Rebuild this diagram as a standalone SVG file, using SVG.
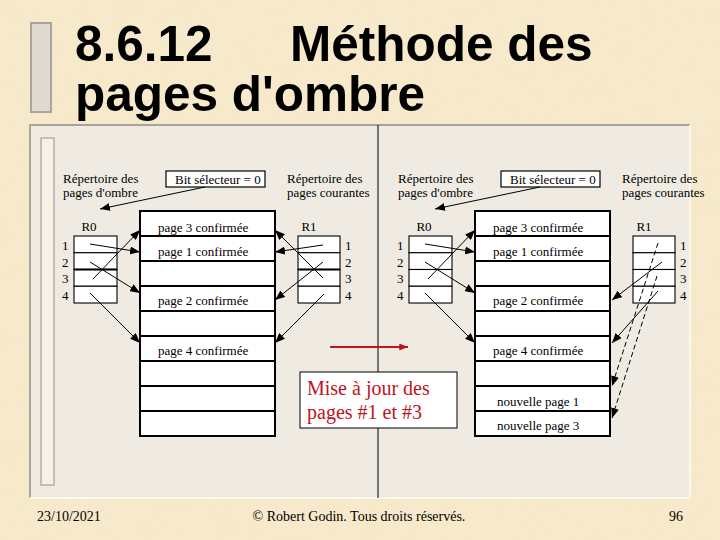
<svg xmlns="http://www.w3.org/2000/svg" width="720" height="540" viewBox="0 0 720 540">
<style>
.t{font-family:"Liberation Serif","Times New Roman",serif;font-size:13px;fill:#000}
.title{font-family:"Liberation Sans",Arial,sans-serif;font-weight:bold;font-size:49.5px;fill:#000}
.foot{font-family:"Liberation Serif","Times New Roman",serif;font-size:14px;fill:#000}
.red{font-family:"Liberation Serif","Times New Roman",serif;font-size:20px;fill:#c0141c}
.row{fill:#fff;stroke:#000;stroke-width:2}
.cell{fill:#fff;stroke:#000;stroke-width:1.1}
.box{fill:#fff;stroke:#000;stroke-width:1.2}
.c{stroke:#000;stroke-width:1;fill:none;marker-end:url(#ah)}
.d{stroke-dasharray:5 3}
</style>
<defs>
<marker id="ah" viewBox="0 0 10 8" refX="10" refY="4" markerWidth="10" markerHeight="8" markerUnits="userSpaceOnUse" orient="auto"><path d="M0,0L10,4L0,8z" fill="#000"/></marker>
<marker id="ahr" viewBox="0 0 10 8" refX="10" refY="4" markerWidth="9" markerHeight="7" markerUnits="userSpaceOnUse" orient="auto"><path d="M0,0L10,4L0,8z" fill="#c0141c"/></marker>
<filter id="paper" x="0" y="0" width="100%" height="100%">
<feTurbulence type="fractalNoise" baseFrequency="0.05" numOctaves="3" seed="4"/>
<feColorMatrix type="matrix" values="0 0 0 0 0.93  0 0 0 0 0.85  0 0 0 0 0.68  0 0 0 0.35 -0.05"/>
</filter>
</defs>
<rect width="720" height="540" fill="#f7e9ca"/>
<rect width="720" height="540" filter="url(#paper)" opacity="0.6"/>
<g id="title">
<rect x="31" y="23" width="20" height="89" fill="#dedad2" stroke="#aaa69e" stroke-width="2"/>
<text class="title"><tspan x="75" y="61">8.6.12</tspan><tspan x="290" y="61">Méthode des</tspan><tspan x="75" y="111">pages d'ombre</tspan></text>
</g>
<g id="panel">
<rect x="30" y="125" width="660" height="373" fill="#efebe2"/>
<path d="M30,498V125H690" fill="none" stroke="#a8a49c" stroke-width="2"/>
<path d="M690,125V498H30" fill="none" stroke="#fbf8f0" stroke-width="2"/>
<rect x="41" y="138" width="13" height="347" fill="#f6f1e4" stroke="#b4b0a8" stroke-width="1.5"/>
<line x1="378" y1="125" x2="378" y2="498" stroke="#000" stroke-width="1"/>
</g>
<g id="left-diagram">
<g id="l-label-shadow"><text class="t" x="63" y="183">Répertoire des</text><text class="t" x="63" y="197">pages d'ombre</text></g>
<g id="l-bit"><rect class="box" x="166" y="171" width="99" height="16"/><text class="t" x="175" y="184">Bit sélecteur = 0</text></g>
<g id="l-label-current"><text class="t" x="287" y="183">Répertoire des</text><text class="t" x="287" y="197">pages courantes</text></g>
<g id="l-R0">
<text class="t" x="89" y="231" text-anchor="middle">R0</text>
<rect class="cell" x="74" y="236" width="43" height="16.75"/><rect class="cell" x="74" y="252.75" width="43" height="16.75"/><rect class="cell" x="74" y="269.5" width="43" height="16.75"/><rect class="cell" x="74" y="286.25" width="43" height="16.75"/>
<line x1="74" y1="269.5" x2="117" y2="269.5" stroke="#000" stroke-width="2"/>
<text class="t" x="62" y="250">1</text><text class="t" x="62" y="267">2</text><text class="t" x="62" y="283">3</text><text class="t" x="62" y="300">4</text>
</g>
<g id="l-R1">
<text class="t" x="309" y="231" text-anchor="middle">R1</text>
<rect class="cell" x="298" y="236" width="42" height="16.75"/><rect class="cell" x="298" y="252.75" width="42" height="16.75"/><rect class="cell" x="298" y="269.5" width="42" height="16.75"/><rect class="cell" x="298" y="286.25" width="42" height="16.75"/>
<line x1="298" y1="269.5" x2="340" y2="269.5" stroke="#000" stroke-width="2"/>
<text class="t" x="345" y="250">1</text><text class="t" x="345" y="267">2</text><text class="t" x="345" y="283">3</text><text class="t" x="345" y="300">4</text>
</g>
<g id="l-pages">
<rect class="row" x="140" y="211" width="135" height="25"/><rect class="row" x="140" y="236" width="135" height="25"/><rect class="row" x="140" y="261" width="135" height="25"/><rect class="row" x="140" y="286" width="135" height="25"/><rect class="row" x="140" y="311" width="135" height="25"/><rect class="row" x="140" y="336" width="135" height="25"/><rect class="row" x="140" y="361" width="135" height="25"/><rect class="row" x="140" y="386" width="135" height="25"/><rect class="row" x="140" y="411" width="135" height="25"/>
<text class="t" x="158" y="232">page 3 confirmée</text>
<text class="t" x="158" y="256">page 1 confirmée</text>
<text class="t" x="158" y="305">page 2 confirmée</text>
<text class="t" x="158" y="355">page 4 confirmée</text>
</g>
</g>
<g id="right-diagram">
<g id="r-label-shadow"><text class="t" x="398" y="183">Répertoire des</text><text class="t" x="398" y="197">pages d'ombre</text></g>
<g id="r-bit"><rect class="box" x="501" y="171" width="99" height="16"/><text class="t" x="510" y="184">Bit sélecteur = 0</text></g>
<g id="r-label-current"><text class="t" x="622" y="183">Répertoire des</text><text class="t" x="622" y="197">pages courantes</text></g>
<g id="r-R0">
<text class="t" x="424" y="231" text-anchor="middle">R0</text>
<rect class="cell" x="409" y="236" width="43" height="16.75"/><rect class="cell" x="409" y="252.75" width="43" height="16.75"/><rect class="cell" x="409" y="269.5" width="43" height="16.75"/><rect class="cell" x="409" y="286.25" width="43" height="16.75"/>
<text class="t" x="397" y="250">1</text><text class="t" x="397" y="267">2</text><text class="t" x="397" y="283">3</text><text class="t" x="397" y="300">4</text>
</g>
<g id="r-R1">
<text class="t" x="644" y="231" text-anchor="middle">R1</text>
<rect class="cell" x="633" y="236" width="42" height="16.75"/><rect class="cell" x="633" y="252.75" width="42" height="16.75"/><rect class="cell" x="633" y="269.5" width="42" height="16.75"/><rect class="cell" x="633" y="286.25" width="42" height="16.75"/>
<text class="t" x="680" y="250">1</text><text class="t" x="680" y="267">2</text><text class="t" x="680" y="283">3</text><text class="t" x="680" y="300">4</text>
</g>
<g id="r-pages">
<rect class="row" x="475" y="211" width="135" height="25"/><rect class="row" x="475" y="236" width="135" height="25"/><rect class="row" x="475" y="261" width="135" height="25"/><rect class="row" x="475" y="286" width="135" height="25"/><rect class="row" x="475" y="311" width="135" height="25"/><rect class="row" x="475" y="336" width="135" height="25"/><rect class="row" x="475" y="361" width="135" height="25"/><rect class="row" x="475" y="386" width="135" height="25"/><rect class="row" x="475" y="411" width="135" height="25"/>
<text class="t" x="493" y="232">page 3 confirmée</text>
<text class="t" x="493" y="256">page 1 confirmée</text>
<text class="t" x="493" y="305">page 2 confirmée</text>
<text class="t" x="493" y="355">page 4 confirmée</text>
<text class="t" x="497" y="406">nouvelle page 1</text>
<text class="t" x="497" y="430">nouvelle page 3</text>
</g>
</g>
<g id="update-note">
<rect x="300" y="372" width="157" height="56" fill="#fff" stroke="#000" stroke-width="1"/>
<text class="red" x="307" y="395">Mise à jour des</text>
<text class="red" x="307" y="419">pages #1 et #3</text>
</g>
<g id="connectors">
<line class="c" x1="205" y1="187" x2="100" y2="209"/>
<line class="c" x1="90" y1="244" x2="140" y2="252"/>
<line class="c" x1="93" y1="279" x2="140" y2="230"/>
<line class="c" x1="90" y1="262" x2="140" y2="293"/>
<line class="c" x1="90" y1="293" x2="140" y2="343"/>
<line class="c" x1="323" y1="245" x2="275" y2="252"/>
<line class="c" x1="323" y1="278" x2="275" y2="230"/>
<line class="c" x1="323" y1="262" x2="275" y2="300"/>
<line class="c" x1="324" y1="294" x2="275" y2="343"/>
<line class="c" x1="540" y1="187" x2="435" y2="209"/>
<line class="c" x1="425" y1="244" x2="475" y2="252"/>
<line class="c" x1="428" y1="279" x2="475" y2="230"/>
<line class="c" x1="425" y1="262" x2="475" y2="293"/>
<line class="c" x1="425" y1="293" x2="475" y2="343"/>
<line class="c d" x1="658" y1="243" x2="612" y2="386"/>
<line class="c" x1="662" y1="262" x2="612" y2="300"/>
<line class="c d" x1="657" y1="276" x2="612" y2="418"/>
<line class="c" x1="658" y1="291" x2="612" y2="343"/>
<line x1="330" y1="347" x2="408" y2="347" stroke="#c0141c" stroke-width="2" marker-end="url(#ahr)"/>
</g>
<g id="footer">
<text class="foot" x="37" y="521">23/10/2021</text>
<text class="foot" x="359" y="521" text-anchor="middle">© Robert Godin. Tous droits réservés.</text>
<text class="foot" x="669" y="521">96</text>
</g>
</svg>
